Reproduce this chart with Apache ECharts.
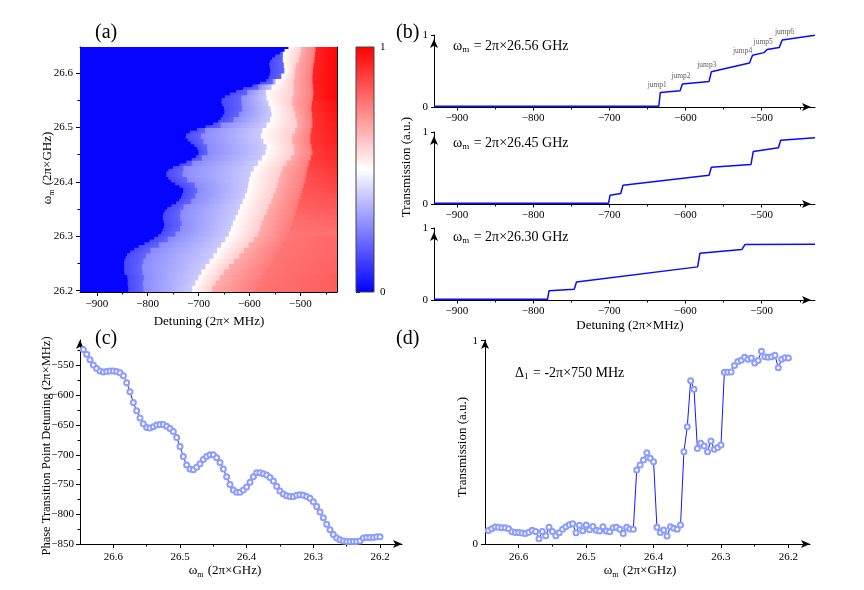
<!DOCTYPE html>
<html>
<head>
<meta charset="utf-8">
<title>Phase transition jumps</title>
<script src="https://cdn.jsdelivr.net/npm/echarts@6/dist/echarts.min.js"></script>
<style>
  html, body { margin: 0; padding: 0; background: #fff; }
  #main { width: 864px; height: 590px; }
</style>
</head>
<body>
<div id="main"></div>
<script>
// ---- data ----
// omega_m grid (2π×GHz), shared by (a) rows, (c) and (d)
var omega = [26.645, 26.64, 26.635, 26.63, 26.625, 26.62, 26.615, 26.61, 26.605, 26.6,
  26.595, 26.59, 26.585, 26.58, 26.575, 26.57, 26.565, 26.56, 26.555, 26.55,
  26.545, 26.54, 26.535, 26.53, 26.525, 26.52, 26.515, 26.51, 26.505, 26.5,
  26.495, 26.49, 26.485, 26.48, 26.475, 26.47, 26.465, 26.46, 26.455, 26.45,
  26.445, 26.44, 26.435, 26.43, 26.425, 26.42, 26.415, 26.41, 26.405, 26.4,
  26.395, 26.39, 26.385, 26.38, 26.375, 26.37, 26.365, 26.36, 26.355, 26.35,
  26.345, 26.34, 26.335, 26.33, 26.325, 26.32, 26.315, 26.31, 26.305, 26.3,
  26.295, 26.29, 26.285, 26.28, 26.275, 26.27, 26.265, 26.26, 26.255, 26.25,
  26.245, 26.24, 26.235, 26.23, 26.225, 26.22, 26.215, 26.21, 26.205, 26.2];

// (c) phase transition point detuning (2π×MHz)
var transitionDetuning = [-523, -531, -540, -549, -555, -559, -561, -560, -559, -559,
  -560, -562, -567, -579, -594, -612, -626, -638, -648, -654,
  -655, -653, -650, -649, -649, -652, -656, -661, -671, -686,
  -703, -717, -724, -725, -721, -715, -708, -703, -700, -700,
  -705, -713, -724, -737, -750, -759, -763, -763, -759, -754,
  -746, -737, -730, -730, -732, -734, -738, -744, -753, -761,
  -766, -769, -770, -770, -768, -767, -768, -770, -773, -779,
  -787, -796, -806, -817, -826, -834, -840, -843, -845, -846,
  -846, -846, -846, -845, -840, -839, -839, -839, -838, -838];

// (d) transmission at Δ1 = -2π×750 MHz
var transmission750 = [0.066, 0.075, 0.084, 0.082, 0.08, 0.08, 0.075, 0.06, 0.057, 0.057,
  0.054, 0.052, 0.058, 0.068, 0.062, 0.026, 0.061, 0.041, 0.082, 0.062,
  0.041, 0.055, 0.072, 0.085, 0.095, 0.1, 0.055, 0.092, 0.065, 0.094,
  0.07, 0.086, 0.068, 0.064, 0.085, 0.064, 0.06, 0.08, 0.082, 0.072,
  0.052, 0.082, 0.074, 0.072, 0.364, 0.389, 0.413, 0.449, 0.421, 0.405,
  0.082, 0.057, 0.069, 0.039, 0.085, 0.077, 0.072, 0.093, 0.454, 0.577,
  0.803, 0.761, 0.47, 0.495, 0.482, 0.454, 0.507, 0.466, 0.475, 0.487,
  0.844, 0.844, 0.846, 0.878, 0.897, 0.903, 0.918, 0.908, 0.915, 0.89,
  0.902, 0.948, 0.921, 0.918, 0.921, 0.928, 0.867, 0.908, 0.916, 0.915];

// (a) further jump edges (2π×MHz), one value per 0.01 GHz from 26.64 down to 26.20
var medBlueEdge = [-531, -534, -534, -532, -531, -537, -554, -582, -604, -616,
  -615, -614, -620, -631, -656, -687, -695, -690, -683, -682,
  -693, -712, -729, -731, -722, -707, -702, -706, -714, -729,
  -735, -736, -733, -736, -745, -760, -777, -794, -803, -808,
  -811, -810, -807, -809, -808];
var whiteEdge = [-530, -537, -539, -540, -540, -541, -548, -556, -567, -566,
  -562, -558, -556, -559, -566, -574, -577, -572, -566, -568,
  -575, -583, -591, -597, -600, -602, -604, -608, -613, -618,
  -622, -627, -632, -636, -640, -647, -655, -663, -670, -678,
  -686, -694, -700, -706, -712];
var pinkEdge = [-498, -500, -503, -508, -510, -511, -513, -513, -513, -515,
  -516, -513, -510, -507, -506, -510, -515, -516, -513, -512,
  -518, -527, -535, -539, -542, -545, -548, -553, -557, -562,
  -566, -571, -576, -579, -583, -591, -601, -611, -620, -630,
  -640, -650, -658, -666, -673];
var redEdge = [-470, -471, -472, -474, -475, -476, -476, -475, -474, -475,
  -477, -478, -477, -476, -476, -478, -480, -480, -478, -476,
  -479, -483, -486, -488, -490, -493, -496, -499, -503, -506,
  -509, -512, -516, -519, -525, -529, -535, -542, -548, -555,
  -561, -568, -575, -581, -588];
// transmission just right of the red edge and at the right border, same rows
var redStartLevel = [0.93, 0.93, 0.93, 0.93, 0.93, 0.93, 0.93, 0.93, 0.93, 0.93,
  0.91, 0.91, 0.9, 0.9, 0.9, 0.9, 0.89, 0.89, 0.89, 0.885,
  0.88, 0.87, 0.86, 0.85, 0.84, 0.84, 0.83, 0.82, 0.82, 0.81,
  0.8, 0.79, 0.78, 0.78, 0.77, 0.77, 0.77, 0.77, 0.77, 0.77,
  0.77, 0.77, 0.77, 0.77, 0.77];
var redEndLevel = [0.99, 0.99, 0.99, 0.99, 0.99, 0.99, 0.99, 0.99, 0.99, 0.99,
  0.97, 0.97, 0.96, 0.96, 0.95, 0.95, 0.94, 0.94, 0.93, 0.92,
  0.92, 0.91, 0.9, 0.89, 0.88, 0.87, 0.86, 0.85, 0.84, 0.83,
  0.82, 0.81, 0.8, 0.79, 0.78, 0.8, 0.8, 0.8, 0.8, 0.81,
  0.81, 0.81, 0.82, 0.82, 0.82];
// transmission at the left / right side of the other bands
var bandStart = [0.01, 0.14, 0.27, 0.5, 0.66];
var bandEnd = [0.01, 0.2, 0.4, 0.6, 0.76];

// (b) transmission traces [detuning, transmission]
var trace2656 = [[-930, 0.01], [-635, 0.01], [-633, 0.2], [-607, 0.225], [-604, 0.32], [-569, 0.355],
  [-566, 0.49], [-516, 0.61], [-512, 0.72], [-497, 0.755], [-493, 0.8], [-477, 0.825], [-473, 0.93], [-430, 0.995]];
var trace2645 = [[-930, 0.01], [-701, 0.01], [-699, 0.12], [-685, 0.145], [-682, 0.26], [-569, 0.4],
  [-566, 0.51], [-514, 0.55], [-511, 0.73], [-478, 0.78], [-475, 0.885], [-430, 0.92]];
var trace2630 = [[-930, 0.01], [-781, 0.01], [-779, 0.13], [-746, 0.15], [-743, 0.25], [-584, 0.46],
  [-581, 0.65], [-526, 0.7], [-522, 0.77], [-430, 0.775]];
var jumpNames = ['jump1', 'jump2', 'jump3', 'jump4', 'jump5', 'jump6'];
var jumpX = [-637, -606, -572, -525, -498, -470];
var jumpY = [0.30, 0.43, 0.58, 0.78, 0.9, 1.035];

// ticks
var detTicks = [-900, -800, -700, -600, -500];
var detMinor = [-850, -750, -650, -550, -450];
var omegaTicks = [26.2, 26.3, 26.4, 26.5, 26.6];
var omegaMinor = [26.25, 26.35, 26.45, 26.55];
var ptdTicks = [-850, -800, -750, -700, -650, -600, -550];
var ptdMinor = [-825, -775, -725, -675, -625, -575, -525];
var colorbarLevels = [0, 0.25, 0.5, 0.75, 1];

// ---- drawing ----
var SERIF = '"Liberation Serif", "Times New Roman", serif';
var DET_MIN = -933, DET_MAX = -428, ROW_HALF = 0.0025;

function bwr(v) {
  v = Math.max(0, Math.min(1, v));
  var r, g, b;
  if (v < 0.5) { r = g = Math.round(510 * v); b = 255; }
  else { r = 255; g = b = Math.round(255 * (1 - (v - 0.5) * 2)); }
  return 'rgb(' + r + ',' + g + ',' + b + ')';
}
function minus(v) { return String(v).replace('-', '\u2212'); }

// heatmap cells: one band segment per row
var heatCells = [];
omega.forEach(function (w, k) {
  var i = Math.floor(k / 2);
  var edges = [DET_MIN, transitionDetuning[k], medBlueEdge[i], whiteEdge[i], pinkEdge[i], redEdge[i], DET_MAX];
  var lo = bandStart.concat([redStartLevel[i]]);
  var hi = bandEnd.concat([redEndLevel[i]]);
  for (var j = 1; j < edges.length; j++) edges[j] = Math.min(DET_MAX, Math.max(edges[j], edges[j - 1]));
  for (var j = 0; j < 6; j++) {
    if (edges[j + 1] > edges[j]) heatCells.push([edges[j], edges[j + 1], w, lo[j], hi[j]]);
  }
});

function renderBand(params, api) {
  var a = api.coord([api.value(0), api.value(2) + ROW_HALF]);
  var b = api.coord([api.value(1), api.value(2) - ROW_HALF]);
  return {
    type: 'rect',
    shape: { x: a[0] - 0.2, y: a[1] - 0.7, width: b[0] - a[0] + 0.6, height: b[1] - a[1] + 1.4 },
    style: {
      fill: new echarts.graphic.LinearGradient(0, 0, 1, 0, [
        { offset: 0, color: bwr(api.value(3)) },
        { offset: 1, color: bwr(api.value(4)) }
      ])
    }
  };
}
function renderColorbar(params, api) {
  var a = api.coord([0, 1]);
  var b = api.coord([1, 0]);
  return {
    type: 'rect',
    shape: { x: a[0], y: a[1], width: b[0] - a[0], height: b[1] - a[1] },
    style: {
      fill: new echarts.graphic.LinearGradient(0, 1, 0, 0, colorbarLevels.map(function (l) {
        return { offset: l, color: bwr(l) };
      })),
      stroke: '#444', lineWidth: 1
    }
  };
}

var LINE = { show: true, onZero: false, lineStyle: { color: '#000', width: 1 } };
var ARROW_LINE = { show: true, onZero: false, symbol: ['none', 'arrow'], symbolSize: [6, 9], lineStyle: { color: '#000', width: 1 } };
var LABEL = { color: '#000', fontFamily: SERIF, fontSize: 11 };

function axis(o) {
  return Object.assign({ type: 'value', splitLine: { show: false }, axisLine: LINE }, o);
}
function ticks(values, len, extra) {
  return Object.assign({ show: true, inside: false, length: len, customValues: values, lineStyle: { color: '#000' } }, extra || {});
}
function minorAxis(grid, pos, min, max, values, inverse) {
  return axis({ gridIndex: grid, position: pos, min: min, max: max, inverse: !!inverse,
    axisLine: { show: false }, axisLabel: { show: false }, axisTick: ticks(values, 2.5) });
}
function frameAxis(grid, pos, min, max) {
  return axis({ gridIndex: grid, position: pos, min: min, max: max,
    axisTick: { show: false }, axisLabel: { show: false } });
}
function detAxis(grid) {
  return axis({ gridIndex: grid, position: 'bottom', min: -930, max: -430, axisLine: Object.assign({}, ARROW_LINE, { symbolOffset: [0, -4] }),
    axisTick: ticks(detTicks, 3.5),
    axisLabel: Object.assign({ customValues: detTicks, margin: 6, formatter: minus }, LABEL) });
}
function transAxis(grid) {
  return axis({ gridIndex: grid, position: 'left', min: 0, max: 1, interval: 1,
    axisLine: Object.assign({}, ARROW_LINE, { symbolOffset: [0, -4] }),
    axisTick: { show: true, length: 3, lineStyle: { color: '#000' } },
    axisLabel: Object.assign({ margin: 6 }, LABEL) });
}

var traceLine = { color: '#0a0aff', width: 1.5 };
var markerStyle = { color: '#8c9cff', borderWidth: 0.9 };
var markerLine = { color: '#1818ff', width: 1 };

function txt(text, x, y, size, opts) {
  opts = opts || {};
  var align = opts.align || 'center';
  return {
    type: 'text', x: x, y: y, rotation: opts.rotation || 0, silent: true,
    style: {
      text: text, fontFamily: SERIF, fontSize: size, fill: '#000',
      align: align, verticalAlign: 'middle', textAlign: align, textVerticalAlign: 'middle',
      rich: opts.rich
    }
  };
}
function subRich(size) {
  return {
    i: { fontFamily: SERIF, fontSize: size, fill: '#000' },
    s: { fontFamily: SERIF, fontSize: Math.round(size * 0.62), fill: '#000', padding: [Math.round(size * 0.55), 1, 0, 0] }
  };
}

var option = {
  animation: false,
  backgroundColor: '#fff',
  grid: [
    { left: 80, top: 47, width: 257, height: 245 },
    { left: 356, top: 47, width: 18, height: 245 },
    { left: 434, top: 35, width: 381, height: 72 },
    { left: 434, top: 132, width: 381, height: 72 },
    { left: 434, top: 228, width: 381, height: 72 },
    { left: 80, top: 340, width: 322, height: 204 },
    { left: 485, top: 340, width: 325, height: 204 }
  ],
  xAxis: [
    axis({ gridIndex: 0, position: 'bottom', min: DET_MIN, max: DET_MAX,
      axisTick: ticks(detTicks, 4),
      axisLabel: Object.assign({ customValues: detTicks, margin: 7, formatter: minus }, LABEL) }),
    minorAxis(0, 'bottom', DET_MIN, DET_MAX, detMinor),
    frameAxis(0, 'top', DET_MIN, DET_MAX),
    axis({ gridIndex: 1, min: 0, max: 1, show: false }),
    detAxis(2), minorAxis(2, 'bottom', -930, -430, detMinor),
    detAxis(3), minorAxis(3, 'bottom', -930, -430, detMinor),
    detAxis(4), minorAxis(4, 'bottom', -930, -430, detMinor),
    axis({ gridIndex: 5, position: 'bottom', min: 26.167, max: 26.65, inverse: true, axisLine: ARROW_LINE,
      axisTick: ticks(omegaTicks, 4),
      axisLabel: Object.assign({ customValues: omegaTicks, margin: 8, formatter: function (v) { return v.toFixed(1); } }, LABEL) }),
    minorAxis(5, 'bottom', 26.167, 26.65, omegaMinor, true),
    axis({ gridIndex: 6, position: 'bottom', min: 26.168, max: 26.65, inverse: true, axisLine: ARROW_LINE,
      axisTick: ticks(omegaTicks, 4),
      axisLabel: Object.assign({ customValues: omegaTicks, margin: 8, formatter: function (v) { return v.toFixed(1); } }, LABEL) }),
    minorAxis(6, 'bottom', 26.168, 26.65, omegaMinor, true)
  ],
  yAxis: [
    axis({ gridIndex: 0, position: 'left', min: 26.1975, max: 26.6475,
      axisTick: ticks(omegaTicks, 4),
      axisLabel: Object.assign({ customValues: omegaTicks, margin: 7, formatter: function (v) { return v.toFixed(1); } }, LABEL) }),
    minorAxis(0, 'left', 26.1975, 26.6475, omegaMinor),
    frameAxis(0, 'right', 26.1975, 26.6475),
    axis({ gridIndex: 1, position: 'right', min: 0, max: 1, interval: 1, axisLine: { show: false },
      axisTick: { show: true, length: 4, lineStyle: { color: '#000' } },
      axisLabel: Object.assign({ margin: 6 }, LABEL) }),
    transAxis(2), transAxis(3), transAxis(4),
    axis({ gridIndex: 5, position: 'left', min: -850, max: -507, axisLine: ARROW_LINE,
      axisTick: ticks(ptdTicks, 4),
      axisLabel: Object.assign({ customValues: ptdTicks, margin: 6, formatter: minus }, LABEL) }),
    minorAxis(5, 'left', -850, -507, ptdMinor),
    axis({ gridIndex: 6, position: 'left', min: 0, max: 1.003, axisLine: ARROW_LINE,
      axisTick: ticks([0, 1], 4),
      axisLabel: Object.assign({ customValues: [0, 1], margin: 7 }, LABEL) })
  ],
  series: [
    { type: 'custom', xAxisIndex: 0, yAxisIndex: 0, clip: true, silent: true,
      renderItem: renderBand, encode: { x: [0, 1], y: 2 }, data: heatCells },
    { type: 'custom', xAxisIndex: 3, yAxisIndex: 3, silent: true,
      renderItem: renderColorbar, encode: { x: 0, y: 1 }, data: [[0, 0]] },
    { type: 'line', xAxisIndex: 4, yAxisIndex: 4, data: trace2656, showSymbol: false, lineStyle: traceLine, silent: true },
    { type: 'line', xAxisIndex: 6, yAxisIndex: 5, data: trace2645, showSymbol: false, lineStyle: traceLine, silent: true },
    { type: 'line', xAxisIndex: 8, yAxisIndex: 6, data: trace2630, showSymbol: false, lineStyle: traceLine, silent: true },
    { type: 'scatter', xAxisIndex: 4, yAxisIndex: 4, symbolSize: 1, clip: false, silent: true,
      itemStyle: { color: 'rgba(0,0,0,0)' },
      data: jumpNames.map(function (n, i) { return [jumpX[i], jumpY[i], n]; }),
      label: { show: true, position: 'inside', formatter: function (p) { return p.value[2]; },
        fontFamily: SERIF, fontSize: 7.5, color: '#333' } },
    { type: 'line', xAxisIndex: 10, yAxisIndex: 7, smooth: 0.35, silent: true,
      data: omega.map(function (w, k) { return [w, transitionDetuning[k]]; }),
      symbol: 'emptyCircle', symbolSize: 5, itemStyle: markerStyle, lineStyle: markerLine },
    { type: 'line', xAxisIndex: 12, yAxisIndex: 9, silent: true,
      data: omega.map(function (w, k) { return [w, transmission750[k]]; }),
      symbol: 'emptyCircle', symbolSize: 5, itemStyle: markerStyle, lineStyle: markerLine }
  ],
  graphic: [
    txt('(a)', 95, 33, 20, { align: 'left' }),
    txt('(b)', 396, 33, 20, { align: 'left' }),
    txt('(c)', 95, 339, 20, { align: 'left' }),
    txt('(d)', 396, 339, 20, { align: 'left' }),
    txt('Detuning (2\u03c0\u00d7 MHz)', 209, 322, 13),
    txt('{i|\u03c9}{s|m}{i| (2\u03c0\u00d7GHz)}', 48, 168, 13, { rotation: Math.PI / 2, rich: subRich(13) }),
    txt('Transmission (a.u.)', 407, 167, 13, { rotation: Math.PI / 2 }),
    txt('Detuning (2\u03c0\u00d7MHz)', 630, 326, 13),
    txt('{i|\u03c9}{s|m}{i| = 2\u03c0\u00d726.56 GHz}', 453, 46, 14, { align: 'left', rich: subRich(14) }),
    txt('{i|\u03c9}{s|m}{i| = 2\u03c0\u00d726.45 GHz}', 453, 143, 14, { align: 'left', rich: subRich(14) }),
    txt('{i|\u03c9}{s|m}{i| = 2\u03c0\u00d726.30 GHz}', 453, 237, 14, { align: 'left', rich: subRich(14) }),
    txt('Phase Transition Point Detuning (2\u03c0\u00d7MHz)', 47, 446, 12.5, { rotation: Math.PI / 2 }),
    txt('{i|\u03c9}{s|m}{i| (2\u03c0\u00d7GHz)}', 225, 571, 13, { rich: subRich(13) }),
    txt('Transmission (a.u.)', 463, 447, 13, { rotation: Math.PI / 2 }),
    txt('{i|\u03c9}{s|m}{i| (2\u03c0\u00d7GHz)}', 640, 571, 13, { rich: subRich(13) }),
    txt('{i|\u0394}{s|1}{i| = -2\u03c0\u00d7750 MHz}', 515, 373, 14, { align: 'left', rich: subRich(14) })
  ]
};

var chart = echarts.init(document.getElementById('main'), null, { renderer: 'canvas' });
chart.setOption(option);
window.addEventListener('resize', function () { chart.resize(); });
</script>
</body>
</html>
